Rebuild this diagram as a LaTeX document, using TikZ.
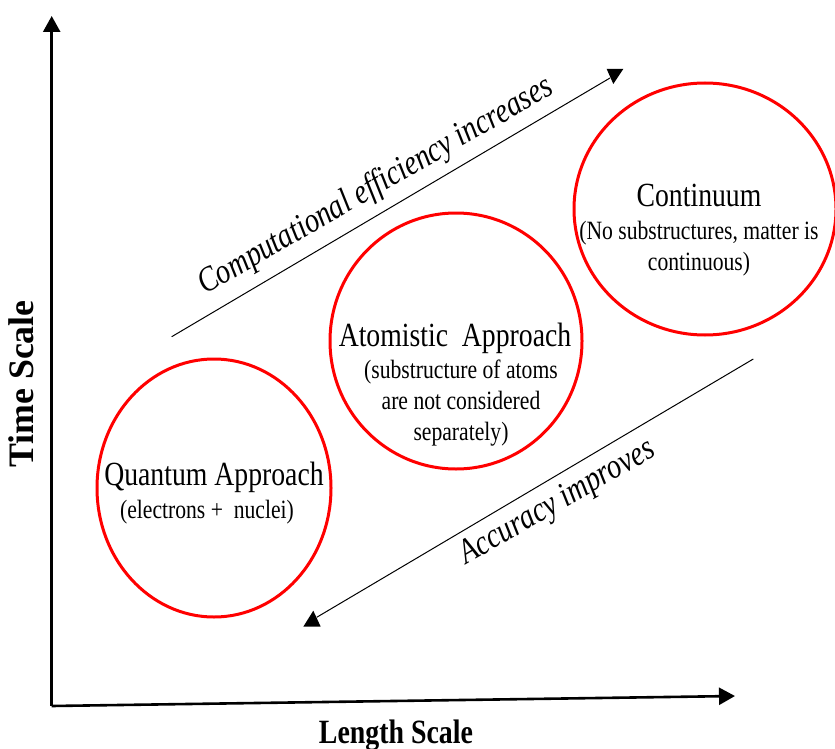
\documentclass[tikz,border=0pt]{standalone}
\usepackage{fontspec}
\setmainfont{Liberation Serif}[FakeStretch=0.82]
\newfontfamily\axisfont{Liberation Serif}
\usepackage{tikz}
\usetikzlibrary{arrows.meta,positioning,shapes.geometric}

\begin{document}
\begin{tikzpicture}[x=0.5pt,y=-0.5pt,
    scalecircle/.style={ellipse,draw=red,line width=1.5pt,inner sep=0pt},
    title/.style={font=\fontsize{16.9}{19}\selectfont,anchor=base,inner sep=0pt},
    note/.style={font=\fontsize{13.2}{15.3}\selectfont,align=center,anchor=base,inner sep=0pt},
    trend/.style={font=\fontsize{17.5}{20}\selectfont\itshape,rotate=30,anchor=base,inner sep=0pt},
    axis/.style={line width=1.3pt,-{Triangle[width=8.5pt,length=8pt]}},
    guide/.style={line width=0.5pt}]
\useasboundingbox (0,0) rectangle (835,749);

% axes
\coordinate (origin) at (51.7,706);
\coordinate (ytip) at (51.7,16);
\coordinate (xtip) at (735,696);
\draw[axis] (origin) -- (ytip);
\draw[axis] (origin) -- (xtip);
\node[font=\axisfont\fontsize{17.9}{20}\selectfont\bfseries,rotate=90,anchor=base,inner sep=0pt] (timelabel) at (33,384) {Time Scale};
\node[font=\fontsize{17}{20}\selectfont\bfseries,anchor=base,inner sep=0pt] (lengthlabel) at (396,743) {Length Scale};

% the three approaches
\node[scalecircle,minimum width=117pt,minimum height=129pt] (quantum) at (214,488) {};
\node[scalecircle,minimum width=126pt,minimum height=128pt] (atomistic) at (456,341) {};
\node[scalecircle,minimum width=131pt,minimum height=126pt] (continuum) at (705,209) {};

% notes: base is the last line
\node[title] (quantumtitle) at (214,485) {Quantum Approach};
\node[note] (quantumnote) at (207,518) {(electrons +~ nuclei)};
\node[title] (atomistictitle) at (455,346.7) {Atomistic~ Approach};
\node[note] (atomisticnote) at (461,440) {(substructure of atoms\\are not considered\\separately)};
\node[title] (continuumtitle) at (699,206.7) {Continuum};
\node[note] (continuumnote) at (699,270) {(No substructures, matter is\\continuous)};

% trends
\coordinate (effstart) at (171.7,336.7);
\coordinate (effend) at (610,78);
\draw[guide] (effstart) -- (effend);
\fill (606.7,69) -- (623.3,69) -- (613.3,84) -- cycle;
\node[trend] (efficiency) at (380,194) {Computational efficiency increases};

\coordinate (accstart) at (753.3,359);
\coordinate (accend) at (316.7,617.3);
\draw[guide] (accstart) -- (accend);
\fill (303.3,626.7) -- (320.7,626.7) -- (313.3,610.7) -- cycle;
\node[trend] (accuracy) at (561.7,510) {Accuracy improves};
\end{tikzpicture}
\end{document}
